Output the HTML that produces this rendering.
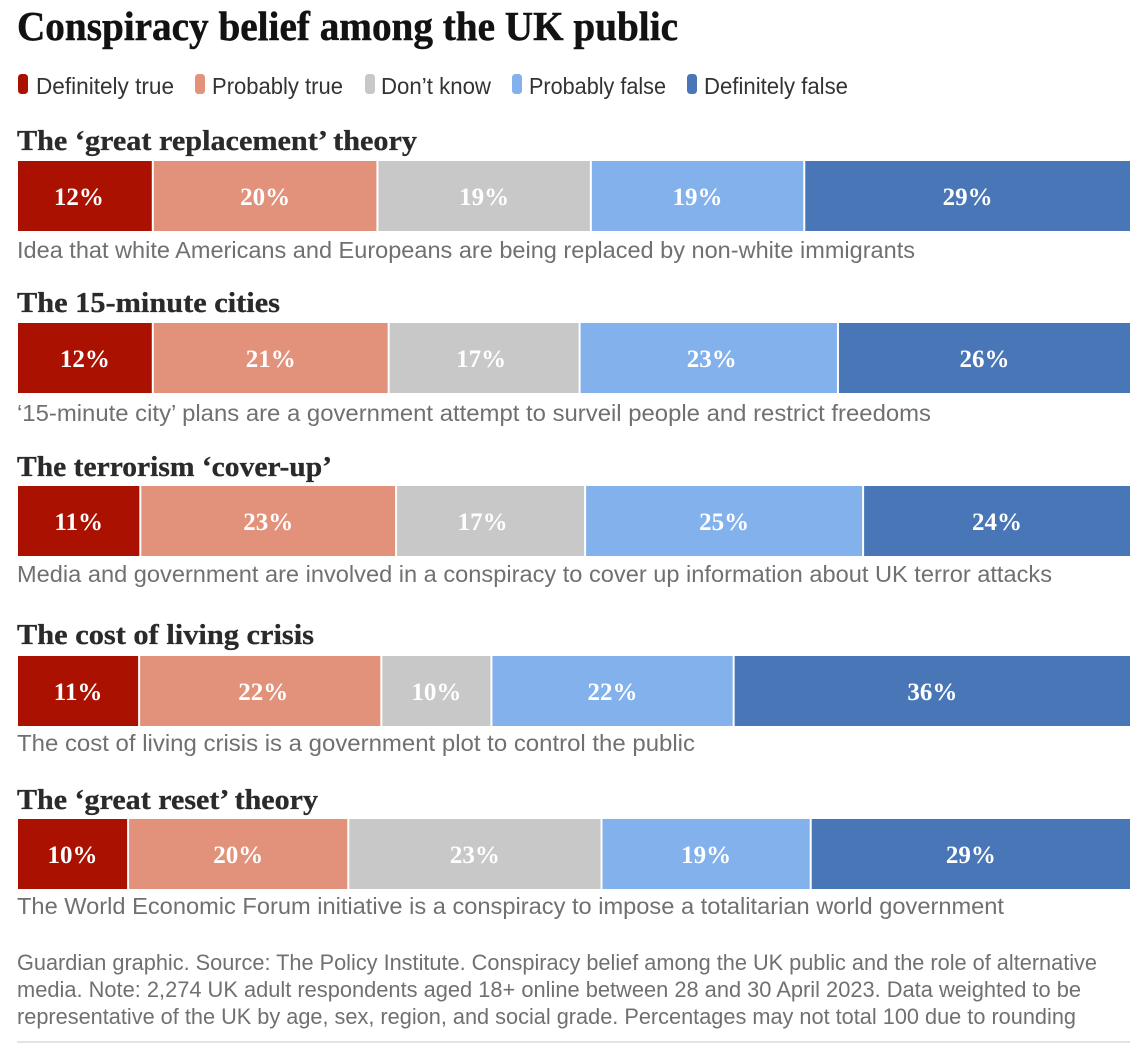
<!DOCTYPE html>
<html lang="en">
<head>
<meta charset="utf-8">
<title>Conspiracy belief among the UK public</title>
<style>
html,body{margin:0;padding:0;background:#fff;width:1143px;height:1044px;overflow:hidden}
svg{display:block}
.title{font:bold 41px "Liberation Serif",serif;fill:#121212;stroke:#121212;stroke-width:.5px}
.legend{font:23px "Liberation Sans",sans-serif;fill:#333}
.head{font:bold 29px "Liberation Serif",serif;fill:#2a2a2a;stroke:#2a2a2a;stroke-width:.3px}
.desc{font:23px "Liberation Sans",sans-serif;fill:#707070}
.foot{font:22px "Liberation Sans",sans-serif;fill:#707070}
.val{font:bold 25px "Liberation Serif",serif;fill:#fff;text-anchor:middle}
</style>
</head>
<body>
<svg id="chart" xmlns="http://www.w3.org/2000/svg" width="1143" height="1044" viewBox="0 0 1143 1044">
  <text class="title" x="17" y="40" textLength="661" lengthAdjust="spacingAndGlyphs">Conspiracy belief among the UK public</text>

  <g>
    <g>
      <rect x="18" y="74" width="10" height="20" rx="3.5" fill="#ab1100"/>
      <text class="legend" x="36" y="94" textLength="138" lengthAdjust="spacingAndGlyphs">Definitely true</text>
    </g>
    <g>
      <rect x="195" y="74" width="10" height="20" rx="3.5" fill="#e2917a"/>
      <text class="legend" x="212" y="94" textLength="131" lengthAdjust="spacingAndGlyphs">Probably true</text>
    </g>
    <g>
      <rect x="365" y="74" width="10" height="20" rx="3.5" fill="#c8c8c8"/>
      <text class="legend" x="381" y="94" textLength="110" lengthAdjust="spacingAndGlyphs">Don’t know</text>
    </g>
    <g>
      <rect x="512" y="74" width="10" height="20" rx="3.5" fill="#82b1ec"/>
      <text class="legend" x="529" y="94" textLength="137" lengthAdjust="spacingAndGlyphs">Probably false</text>
    </g>
    <g>
      <rect x="687" y="74" width="10" height="20" rx="3.5" fill="#4976b6"/>
      <text class="legend" x="704" y="94" textLength="144" lengthAdjust="spacingAndGlyphs">Definitely false</text>
    </g>
  </g>

  <text class="head" x="17" y="150" textLength="400" lengthAdjust="spacingAndGlyphs">The ‘great replacement’ theory</text>
  <g class="row" transform="translate(0,161)"></g>
  <text class="desc" x="17" y="258" textLength="898" lengthAdjust="spacingAndGlyphs">Idea that white Americans and Europeans are being replaced by non-white immigrants</text>

  <text class="head" x="17" y="312" textLength="263" lengthAdjust="spacingAndGlyphs">The 15-minute cities</text>
  <g class="row" transform="translate(0,323)"></g>
  <text class="desc" x="17" y="421" textLength="914" lengthAdjust="spacingAndGlyphs">‘15-minute city’ plans are a government attempt to surveil people and restrict freedoms</text>

  <text class="head" x="17" y="476" textLength="315" lengthAdjust="spacingAndGlyphs">The terrorism ‘cover-up’</text>
  <g class="row" transform="translate(0,486)"></g>
  <text class="desc" x="17" y="582" textLength="1035" lengthAdjust="spacingAndGlyphs">Media and government are involved in a conspiracy to cover up information about UK terror attacks</text>

  <text class="head" x="17" y="644" textLength="297" lengthAdjust="spacingAndGlyphs">The cost of living crisis</text>
  <g class="row" transform="translate(0,656)"></g>
  <text class="desc" x="17" y="751" textLength="678" lengthAdjust="spacingAndGlyphs">The cost of living crisis is a government plot to control the public</text>

  <text class="head" x="17" y="809" textLength="301" lengthAdjust="spacingAndGlyphs">The ‘great reset’ theory</text>
  <g class="row" transform="translate(0,819)"></g>
  <text class="desc" x="17" y="914" textLength="987" lengthAdjust="spacingAndGlyphs">The World Economic Forum initiative is a conspiracy to impose a totalitarian world government</text>

  <g>
    <text class="foot" x="17" y="970" textLength="1080" lengthAdjust="spacingAndGlyphs">Guardian graphic. Source: The Policy Institute. Conspiracy belief among the UK public and the role of alternative</text>
    <text class="foot" x="17" y="997" textLength="1064" lengthAdjust="spacingAndGlyphs">media. Note: 2,274 UK adult respondents aged 18+ online between 28 and 30 April 2023. Data weighted to be</text>
    <text class="foot" x="17" y="1024" textLength="1059" lengthAdjust="spacingAndGlyphs">representative of the UK by age, sex, region, and social grade. Percentages may not total 100 due to rounding</text>
  </g>
  <line x1="17" y1="1042" x2="1130" y2="1042" stroke="#dcdcdc" stroke-width="1.5"/>
</svg>
<script>
const categories = ['great-replacement', '15-minute-cities', 'terrorism-cover-up', 'cost-of-living', 'great-reset'];
const responses = ['definitely-true', 'probably-true', 'dont-know', 'probably-false', 'definitely-false'];
const definitelyTrue = [12, 12, 11, 11, 10];
const probablyTrue = [20, 21, 23, 22, 20];
const dontKnow = [19, 17, 17, 10, 23];
const probablyFalse = [19, 23, 25, 22, 19];
const definitelyFalse = [29, 26, 24, 36, 29];

const seriesList = [definitelyTrue, probablyTrue, dontKnow, probablyFalse, definitelyFalse];
const seriesColors = ['#ab1100', '#e2917a', '#c8c8c8', '#82b1ec', '#4976b6'];

const SVG_NS = 'http://www.w3.org/2000/svg';
const plotLeft = 18;
const plotRight = 1130;
const barHeight = 70;

function xScale(cumulative, total) {
  return plotLeft + (cumulative / total) * (plotRight - plotLeft);
}

// The original places a couple of labels off-centre within their segment.
function labelShift(r, i) {
  if (r === 0 && i === 0) return -6;
  if (r === 2 && i === 2) return -8;
  if (r === 1 && i === 2) return -3;
  if (r === 1 && i === 3) return 3;
  if (r === 3 && i === 1) return 3;
  return 0;
}

const rows = document.querySelectorAll('#chart .row');
categories.forEach(function (category, r) {
  const group = rows[r];
  const total = seriesList.reduce(function (sum, s) { return sum + s[r]; }, 0);
  let cumulative = 0;
  seriesList.forEach(function (series, i) {
    const value = series[r];
    const start = xScale(cumulative, total);
    cumulative += value;
    const end = xScale(cumulative, total);
    const left = i === 0 ? start : start + 1;
    const right = i === seriesList.length - 1 ? end : end - 1;

    const rect = document.createElementNS(SVG_NS, 'rect');
    rect.setAttribute('x', left);
    rect.setAttribute('y', 0);
    rect.setAttribute('width', Math.max(0, right - left));
    rect.setAttribute('height', barHeight);
    rect.setAttribute('fill', seriesColors[i]);
    
    
    group.appendChild(rect);

    const label = document.createElementNS(SVG_NS, 'text');
    label.setAttribute('class', 'val');
    label.setAttribute('x', (left + right) / 2 + labelShift(r, i));
    label.setAttribute('y', 44);
    
    
    label.textContent = value + '%';
    group.appendChild(label);
  });
});
</script>
</body>
</html>
